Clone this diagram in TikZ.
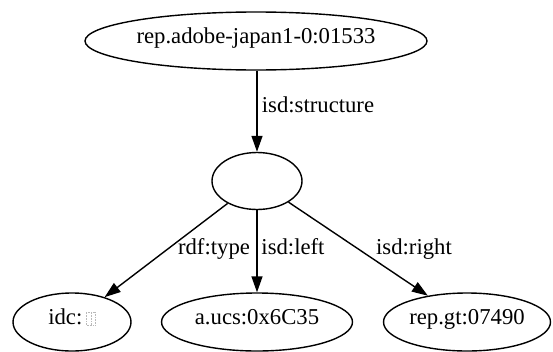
\documentclass[tikz,border=0pt]{standalone}
\usepackage{fontspec}
\setmainfont{Liberation Serif}
\usetikzlibrary{arrows.meta,shapes.geometric}
\tikzset{
  nd/.style={draw, ellipse, line width=1.4pt, inner sep=0pt, text height=1.5ex, text depth=.25ex},
  lbl/.style={inner sep=0pt, text height=1.5ex, text depth=.25ex},
  edge/.style={line width=1.4pt, -{Triangle[length=16pt,width=11pt]}},
}
\newcommand{\tofubox}{\tikz[baseline=0pt]{\draw[gray!55,densely dotted,line width=0.6pt] (0,0) rectangle (9pt,13pt); \draw[gray!55,densely dotted,line width=0.6pt] (4.5pt,0) -- (4.5pt,13pt);}}
\begin{document}
\begin{tikzpicture}[x=1pt,y=-1pt,font=\fontsize{22.7}{27}\selectfont]
\useasboundingbox (0,0) rectangle (553,351);
\node[nd, minimum width=342pt, minimum height=58pt] (top) at (256,41) {rep.adobe-japan1-0:01533};
\node[nd, minimum width=90pt, minimum height=57pt] (mid) at (257,181) {};
\node[nd, minimum width=118pt, minimum height=58pt] (idc) at (72,322) {idc:\,\tofubox};
\node[nd, minimum width=191pt, minimum height=58pt] (ucs) at (257,322) {a.ucs:0x6C35};
\node[nd, minimum width=167pt, minimum height=58pt] (gt) at (467,322) {rep.gt:07490};
\draw[edge] (top.south -| mid.north) -- (mid.north);
\draw[edge] (mid) -- (idc);
\draw[edge] (mid.south) -- (mid.south |- ucs.north);
\draw[edge] (mid) -- (gt);
\node[lbl] (l1) at (318,110) {isd:structure};
\node[lbl] (l2) at (214,252) {rdf:type};
\node[lbl] (l3) at (293,252) {isd:left};
\node[lbl] (l4) at (414,252) {isd:right};
\end{tikzpicture}
\end{document}
